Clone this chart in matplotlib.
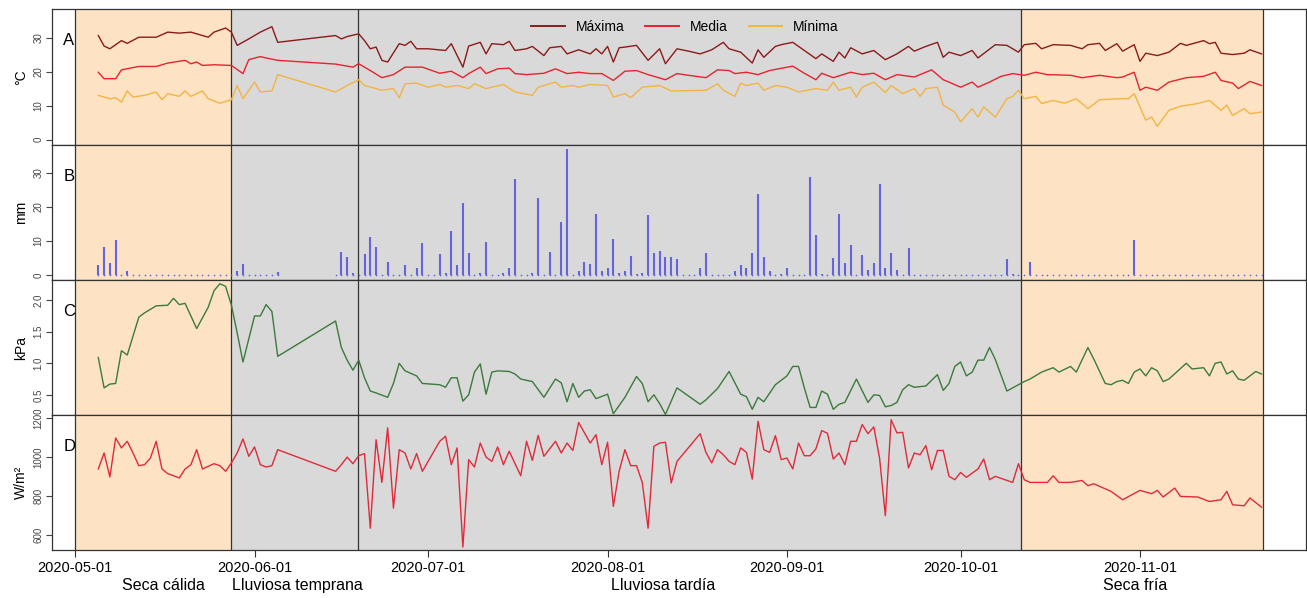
import numpy as np
import matplotlib
matplotlib.use("Agg")
import matplotlib.pyplot as plt
from matplotlib.lines import Line2D

plt.rcParams['font.family'] = ['Liberation Sans', 'DejaVu Sans']

# days counted from 2020-05-01
tick_days = [0, 31, 61, 92, 123, 153, 184]
tick_labels = ["2020-05-01", "2020-06-01", "2020-07-01", "2020-08-01",
               "2020-09-01", "2020-10-01", "2020-11-01"]

season_edges = [0, 27, 48.8, 163.5, 205.2]
season_colors = ["#FDE3C4", "#D9D9D9", "#D9D9D9", "#FDE3C4"]
season_names = ["Seca cálida", "Lluviosa temprana", "Lluviosa tardía", "Seca fría"]
season_label_day = [15.2, 38.4, 101.6, 183.2]

# A: temperature
tmax_day = [4, 5, 6, 8, 9, 11, 14, 16, 18, 20, 22, 23, 24, 26, 27, 28, 30, 32, 34, 35,
            45, 46, 47, 49, 50, 51, 52, 53, 54, 56, 57, 58, 59, 61, 64, 65, 67, 68, 70,
            71, 72, 74, 75, 76, 78, 79, 81, 82, 84, 85, 87, 89, 90, 91, 92, 93, 94, 95,
            97, 99, 101, 102, 104, 106, 108, 110, 112, 113, 115, 117, 118, 119, 121, 122,
            124, 126, 128, 129, 131, 132, 133, 134, 136, 138, 140, 142, 144, 145, 147,
            149, 150, 151, 153, 155, 156, 159, 161, 163, 164, 166, 167, 169, 172, 174,
            175, 177, 178, 180, 181, 183, 184, 185, 187, 189, 191, 192, 195, 196, 197,
            198, 200, 202, 203, 205]
tmax = [30.6, 27.5, 26.7, 29.1, 28.3, 30.1, 30.1, 31.6, 31.3, 31.6, 30.6, 30.1, 31.6,
        32.8, 31.6, 27.7, 29.6, 31.6, 33.2, 28.6,
        30.6, 29.6, 30.3, 31.1, 29.1, 26.7, 27.2, 23.3, 22.8, 28.2, 27.7, 28.9, 26.7,
        26.7, 26.2, 28.2, 21.3, 27.5, 28.6,
        25.2, 28.2, 27.9, 28.9, 26.2, 26.7, 27.4, 24.7, 27.0, 27.4, 25.2, 26.4, 25.2,
        26.7, 25.2, 27.4, 22.8, 27.0, 27.2,
        27.7, 23.3, 26.7, 22.3, 26.7, 26.0, 25.2, 26.4, 28.6, 26.7, 25.7, 22.5, 26.4,
        24.2, 27.4, 27.9,
        28.6, 26.2, 23.8, 25.2, 23.0, 25.7, 24.0, 27.0, 25.2, 26.2, 23.5, 25.2, 27.4,
        26.0, 27.4,
        28.6, 24.2, 25.7, 24.7, 26.2, 24.0, 27.9, 27.7, 25.7, 27.9, 28.3, 26.7, 27.9,
        27.7, 26.7,
        27.9, 28.3, 26.2, 28.2, 26.0, 27.9, 23.0, 25.4, 24.7, 25.7, 28.3, 27.7, 29.1,
        28.2, 28.6,
        25.4, 25.0, 25.4, 26.4, 25.2]

tmed_day = [4, 5, 7, 8, 11, 14, 16, 19, 20, 21, 22, 24, 27, 29, 30, 32, 33, 35, 45, 48,
            49, 51, 53, 55, 57, 60, 63, 65, 67, 68, 70, 71, 73, 75, 76, 78, 81, 83, 85,
            87, 89, 91, 93, 95, 97, 99, 102, 104, 106, 109, 111, 113, 114, 116, 118,
            120, 124, 126, 128, 129, 131, 134, 136, 138, 140, 142, 145, 148, 150, 151,
            153, 155, 156, 158, 160, 162, 164, 166, 168, 172, 174, 177, 180, 181, 183,
            184, 185, 187, 189, 192, 195, 197, 198, 200, 201, 203, 205]
tmed = [19.8, 17.9, 17.9, 20.5, 21.5, 21.5, 22.5, 23.3, 22.3, 22.8, 21.8, 22.0, 21.8,
        19.4, 23.5, 24.4, 24.0, 23.3, 22.2, 21.3,
        22.3, 20.3, 18.2, 19.1, 21.3, 21.3, 19.5, 20.1, 18.2, 19.4, 21.3, 19.4, 20.8,
        21.0, 19.4, 19.1, 19.5, 20.8, 19.4,
        19.8, 19.4, 19.4, 17.4, 20.1, 20.3, 19.1, 17.6, 19.4, 18.9, 18.2, 20.5, 20.3,
        19.4, 19.8, 19.1,
        20.3, 21.6, 19.5, 17.6, 19.5, 18.2, 19.8, 19.1, 19.5, 17.6, 19.1, 18.4, 20.5,
        17.6, 16.9,
        15.4, 16.9, 15.4, 16.9, 18.6, 19.4, 18.9, 19.8, 19.1, 18.9, 18.2, 18.9, 18.2,
        18.4, 19.8,
        14.5, 15.4, 14.5, 16.9, 18.2, 18.6, 19.8, 17.4, 16.6, 15.0, 17.1, 15.9]

tmin_day = [4, 6, 7, 8, 9, 10, 12, 14, 15, 16, 18, 19, 20, 22, 23, 25, 27, 28, 29, 31,
            32, 34, 35, 45, 47, 49, 50, 52, 53, 55, 56, 57, 59, 61, 63, 64, 66, 68, 69,
            71, 72, 74, 76, 79, 80, 83, 84, 86, 87, 89, 92, 93, 95, 96, 98, 101, 103,
            109, 111, 112, 114, 115, 116, 118, 119, 121, 123, 125, 128, 130, 131, 132,
            134, 135, 136, 138, 140, 141, 143, 145, 146, 147, 149, 150, 152, 153, 155,
            156, 157, 159, 161, 162, 163, 164, 166, 167, 169, 171, 173, 175, 177, 180,
            182, 183, 185, 186, 187, 189, 191, 194, 196, 198, 199, 200, 202, 203, 205]
tmin = [13.0, 12.0, 12.3, 11.0, 14.3, 12.5, 13.0, 14.0, 11.7, 13.5, 12.7, 14.3, 12.7,
        14.3, 12.0, 10.7, 11.7, 15.9, 12.0, 16.9,
        14.0, 14.3, 19.1, 14.0, 15.9, 17.6, 15.9, 15.0, 14.5, 15.0, 12.3, 16.4, 16.6,
        15.4, 16.2, 15.4, 15.9, 15.0, 16.4,
        15.0, 15.4, 16.2, 14.0, 13.0, 15.4, 16.9, 15.4, 15.9, 15.4, 16.2, 15.9, 12.5,
        13.5, 12.3, 15.4, 15.9, 14.3,
        14.5, 16.4, 14.5, 12.7, 16.6, 15.9, 16.6, 14.5, 15.9, 15.4, 14.0, 15.0, 14.5,
        16.9, 14.5,
        15.4, 12.5, 15.4, 16.9, 13.8, 15.9, 13.5, 15.0, 12.7, 15.0, 15.4, 10.1, 8.1,
        5.2, 9.1,
        6.6, 9.6, 6.6, 12.0, 12.7, 14.5, 12.0, 12.7, 10.6, 11.5, 10.7, 12.0, 9.1, 11.7,
        12.0,
        12.0, 13.5, 5.7, 6.6, 3.9, 8.6, 9.8, 10.6, 11.5, 8.6, 10.1, 7.1, 9.1, 7.6, 8.1]

# B: precipitation (days with data, and rainy days)
obs_days = list(range(4, 36)) + list(range(45, 206))
rain_day = [4, 5, 6, 7, 9, 28, 29, 35, 46, 47, 48, 50, 51, 52, 54, 57, 59, 60, 63, 64,
            65, 66, 67, 68, 70, 71, 74, 75, 76, 79, 80, 82, 84, 85, 87, 88, 89, 90, 91,
            92, 93, 94, 95, 96, 97, 98, 99, 100, 101, 102, 103, 104, 108, 109, 114, 115,
            116, 117, 118, 119, 120, 122, 123, 127, 128, 129, 131, 132, 133, 134, 136,
            137, 138, 139, 140, 141, 142, 144, 161, 162, 165, 183]
rain_mm = [2.9, 8.1, 3.6, 10.2, 1.2, 1.0, 3.1, 0.8, 6.8, 5.2, 0.5, 6.1, 11.2, 8.1, 3.9,
           2.9, 2.0, 9.4, 6.0, 0.5,
           13.0, 2.9, 21.0, 6.3, 0.7, 9.7, 0.5, 2.0, 28.3, 0.7, 22.7, 6.8, 15.6, 37.0,
           1.2, 3.9, 3.2, 17.8, 1.2,
           2.0, 10.7, 0.7, 1.0, 5.6, 0.4, 0.5, 17.5, 6.3, 7.0, 5.4, 5.2, 4.6, 2.0, 6.3,
           1.0, 2.9,
           2.1, 6.5, 23.7, 5.4, 1.2, 0.4, 2.0, 28.7, 11.7, 0.4, 4.9, 18.0, 3.6, 8.8,
           5.8,
           1.5, 3.4, 26.6, 2.1, 6.3, 1.5, 7.8, 4.6, 0.4, 3.9, 10.2]

# C: vapour pressure deficit
vpd_day = [4, 5, 6, 7, 8, 9, 11, 12, 14, 16, 17, 18, 19, 21, 23, 24, 25, 26, 27, 28, 29,
           31, 32, 33, 34, 35, 45, 46, 47, 48, 49, 50, 51, 52, 54, 55, 56, 57, 59, 60,
           63, 64, 65, 66, 67, 68, 69, 70, 71, 72, 73, 75, 76, 77, 79, 81, 83, 84, 85,
           86, 87, 88, 89, 90, 92, 93, 95, 97, 98, 99, 100, 101, 102, 104, 108, 109,
           111, 113, 115, 116, 117, 118, 119, 121, 123, 124, 125, 126, 127, 128, 129,
           130, 131, 132, 133, 135, 137, 138, 139, 140, 141, 142, 143, 144, 145, 147,
           149, 150, 151, 152, 153, 154, 155, 156, 157, 158, 159, 161, 162, 164, 165,
           167, 169, 170, 172, 173, 175, 176, 178, 179, 180, 181, 182, 183, 184, 185,
           186, 187, 188, 189, 192, 193, 195, 196, 197, 198, 199, 200, 201, 202, 204,
           205]
vpd = [1.09, 0.61, 0.67, 0.68, 1.20, 1.13, 1.73, 1.80, 1.91, 1.92, 2.03, 1.93, 1.95,
       1.55, 1.89, 2.15, 2.26, 2.22, 1.92, 1.48, 1.02,
       1.75, 1.75, 1.93, 1.82, 1.11, 1.67, 1.25, 1.05, 0.89, 1.05, 0.77, 0.56, 0.53,
       0.46, 0.68, 1.00, 0.88, 0.80, 0.68,
       0.66, 0.62, 0.77, 0.77, 0.40, 0.50, 0.86, 0.99, 0.51, 0.86, 0.88, 0.87, 0.83,
       0.75, 0.71, 0.46, 0.75, 0.69, 0.39,
       0.68, 0.46, 0.56, 0.58, 0.44, 0.51, 0.20, 0.46, 0.79, 0.68, 0.39, 0.50, 0.36,
       0.19, 0.61, 0.35, 0.42,
       0.60, 0.87, 0.51, 0.47, 0.27, 0.46, 0.39, 0.66, 0.80, 0.95, 0.95, 0.61, 0.30,
       0.30, 0.56,
       0.51, 0.27, 0.35, 0.38, 0.75, 0.38, 0.50, 0.49, 0.31, 0.33, 0.38, 0.58, 0.66,
       0.62, 0.64,
       0.82, 0.57, 0.68, 0.95, 1.02, 0.80, 0.86, 1.05, 1.05, 1.25, 1.06, 0.56, 0.61,
       0.71, 0.75,
       0.86, 0.93, 0.86, 0.95, 0.86, 1.25, 1.07, 0.68, 0.66, 0.71, 0.73, 0.68, 0.86,
       0.91, 0.80,
       0.93, 0.88, 0.71, 0.75, 1.00, 0.91, 0.93, 0.80, 1.00, 1.02, 0.83, 0.88, 0.75,
       0.73, 0.87,
       0.83]

# D: solar radiation
rad_day = [4, 5, 6, 7, 8, 9, 10, 11, 12, 13, 14, 15, 16, 17, 18, 19, 20, 21, 22, 24,
           25, 26, 27, 28, 29, 30, 31, 32, 33, 34, 35, 45, 46, 47, 48, 49, 50, 51, 52,
           53, 54, 55, 56, 57, 58, 59, 60, 63, 64, 65, 66, 67, 68, 69, 70, 71, 72, 73,
           74, 75, 77, 78, 79, 80, 81, 83, 84, 85, 86, 87, 89, 90, 91, 92, 93, 94, 95,
           96, 97, 98, 99, 100, 101, 102, 103, 104, 108, 109, 110, 111, 112, 113, 114,
           115, 116, 117, 118, 119, 120, 121, 122, 123, 124, 125, 126, 127, 128, 129,
           130, 131, 132, 133, 134, 135, 136, 137, 138, 139, 140, 141, 142, 143, 144,
           145, 146, 147, 148, 149, 150, 151, 152, 153, 154, 156, 157, 158, 159, 161,
           162, 163, 164, 165, 168, 169, 170, 172, 174, 175, 176, 179, 181, 184, 186,
           187, 188, 190, 191, 194, 196, 198, 199, 200, 202, 203, 205]
rad = [938, 1020, 897, 1097, 1046, 1080, 1020, 955, 960, 994, 1080, 938, 914, 903, 892,
       938, 960, 1037, 938, 965,
       955, 926, 969, 1020, 1092, 1003, 1051, 960, 948, 955, 1037, 926, 960, 999, 965,
       1006, 1017, 634, 1088,
       869, 1149, 737, 1037, 1020, 938, 1017, 926, 1080, 1106, 960, 1046, 537, 986, 948,
       1071, 999, 977, 1051,
       960, 1029, 903, 1080, 982, 1110, 1003, 1080, 1020, 1071, 1033, 1177, 1071, 1114,
       960, 1075, 746, 926, 1037,
       955, 955, 869, 634, 1054, 1071, 1075, 866, 977, 1119, 1023, 969, 1037, 1011,
       977, 960,
       1046, 1023, 886, 1183, 1037, 1023, 1109, 986, 994, 938, 1071, 1006, 1006, 1041,
       1135,
       1121, 989, 1020, 960, 1080, 1080, 1166, 1119, 1154, 994, 698, 1191, 1123, 1126,
       943,
       1020, 1011, 1058, 934, 1033, 1033, 900, 883, 920, 895, 938, 989, 883, 900, 879,
       869, 965, 883, 869, 869, 903, 869, 869, 879, 852, 862, 823, 780, 828, 811,
       828, 794, 840, 797, 794, 771, 780, 823, 754, 749, 789, 742]

W, H = 1307, 598
fig = plt.figure(figsize=(W / 100, H / 100), dpi=100)

left, right = 52, 1305.5
panels = [(9, 145), (145, 280), (280, 415), (415, 550)]
axes = []
for top, bottom in panels:
    ax = fig.add_axes([left / W, 1 - bottom / H, (right - left) / W, (bottom - top) / H])
    axes.append(ax)

ylims = [(-1.6, 38.4), (-1.5, 38.2), (0.18, 2.32), (522, 1215)]
yticks = [[0, 10, 20, 30], [0, 10, 20, 30], [0.5, 1.0, 1.5, 2.0], [600, 800, 1000, 1200]]
yticklabels = [["0", "10", "20", "30"], ["0", "10", "20", "30"],
               ["0.5", "1.0", "1.5", "2.0"], ["600", "800", "1000", "1200"]]
ylabels = ["°C", "mm", "kPa", "W/m²"]
letters = ["A", "B", "C", "D"]

for i, ax in enumerate(axes):
    ax.set_xlim(-4, 212.6)
    ax.set_ylim(*ylims[i])
    for k in range(4):
        ax.axvspan(season_edges[k], season_edges[k + 1], color=season_colors[k], lw=0, zorder=0)
    for e in season_edges:
        ax.axvline(e, color="#333333", lw=0.9, zorder=1)
    ax.set_yticks(yticks[i])
    ax.set_yticklabels(yticklabels[i], rotation=90, va="center", fontsize=7, color="#444444")
    ax.tick_params(axis="y", length=4, width=0.8, colors="#444444", pad=2)
    ax.set_ylabel(ylabels[i], fontsize=10, labelpad=4)
    for sp in ax.spines.values():
        sp.set_color("#333333")
        sp.set_linewidth(0.9)
    ax.text(0.009, 0.77, letters[i], transform=ax.transAxes, fontsize=12, va="center", ha="left")
    if i < 3:
        ax.set_xticks([])
    else:
        ax.set_xticks(tick_days)
        ax.set_xticklabels(tick_labels, fontsize=10.5)
        ax.tick_params(axis="x", length=5, width=0.8, colors="#333333", pad=3)
        ax.tick_params(axis="x", labelcolor="black")

axA, axB, axC, axD = axes
c_max, c_med, c_min = "#8B1A1A", "#E8222E", "#F2B444"
axA.plot(tmax_day, tmax, color=c_max, lw=1.0, zorder=3)
axA.plot(tmed_day, tmed, color=c_med, lw=1.0, zorder=3)
axA.plot(tmin_day, tmin, color=c_min, lw=1.0, zorder=3)
handles = [Line2D([], [], color=c, lw=1.4) for c in (c_max, c_med, c_min)]
axA.legend(handles, ["Máxima", "Media", "Mínima"], loc="upper center", ncol=3,
           frameon=False, fontsize=10, handlelength=2.4, columnspacing=1.5,
           bbox_to_anchor=(0.505, 1.01))

bar_c = "#6464DC"
axB.scatter(obs_days, np.zeros(len(obs_days)), s=1.5, color=bar_c, zorder=3, lw=0)
axB.vlines(rain_day, 0, rain_mm, color=bar_c, lw=1.5, zorder=3)

axC.plot(vpd_day, vpd, color="#3C7A3C", lw=1.0, zorder=3)
axD.plot(rad_day, rad, color="#E02A3A", lw=1.0, zorder=3)

for name, d in zip(season_names, season_label_day):
    axD.text(d, -0.265, name, transform=axD.get_xaxis_transform(), ha="center",
             va="center", fontsize=11.5)

fig.savefig("out.png", dpi=100)
